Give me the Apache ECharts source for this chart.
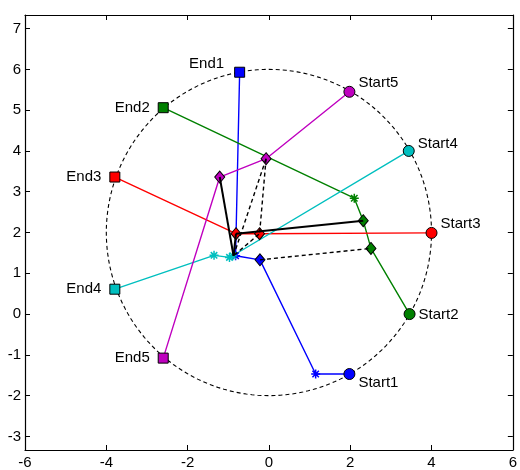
<!DOCTYPE html>
<html>
<head>
<meta charset="utf-8">
<script src="https://cdn.jsdelivr.net/npm/echarts@6/dist/echarts.min.js"></script>
<style>
html,body{margin:0;padding:0;background:#fff;}
#chart{width:520px;height:470px;}
</style>
</head>
<body>
<div id="chart"></div>
<script>
// ---- data ----
const xTicks = [-6, -4, -2, 0, 2, 4, 6];
const yTicks = [-3, -2, -1, 0, 1, 2, 3, 4, 5, 6, 7];

const startLabels = ['Start1', 'Start2', 'Start3', 'Start4', 'Start5'];
const endLabels = ['End1', 'End2', 'End3', 'End4', 'End5'];
const startX = [1.98, 3.46, 4.00, 3.44, 1.98];
const startY = [-1.47, 0.00, 1.99, 4.00, 5.45];
const endX = [-0.72, -2.60, -3.79, -3.79, -2.60];
const endY = [5.93, 5.06, 3.36, 0.61, -1.08];

// intermediate waypoints of each path (from start toward end)
const path1Mid = [[1.15, -1.47], [-0.22, 1.33], [-0.82, 1.43]];
const path2Mid = [[2.51, 1.61], [2.32, 2.29], [2.10, 2.84]];
const path3Mid = [[-0.23, 1.97], [-0.81, 1.97]];
const path4Mid = [[-0.89, 1.43], [-0.97, 1.39], [-1.35, 1.44]];
const path5Mid = [[-0.07, 3.81], [-1.21, 3.36]];
// marker kind of each waypoint: 's' = star, 'd' = diamond
const path1Kinds = ['s', 'd', 's'];
const path2Kinds = ['d', 'd', 's'];
const path3Kinds = ['d', 'd'];
const path4Kinds = ['s', 's', 's'];
const path5Kinds = ['d', 'd'];

// black connecting links
const solidLinks = [
  [[-0.87, 1.43], [-1.21, 3.36]],
  [[-0.87, 1.43], [-0.81, 1.97]],
  [[-0.81, 1.97], [2.32, 2.29]]
];
const dashedLinks = [
  [[-0.87, 1.43], [-0.07, 3.81]],
  [[-0.07, 3.81], [-0.23, 1.97]],
  [[-0.85, 1.45], [-0.23, 1.97]],
  [[-0.22, 1.33], [2.51, 1.61]]
];

// reference circle
const circleCenter = [0, 2];
const circleRadius = 4;

// ---- styles ----
const pathColors = ['#0000ff', '#008000', '#ff0000', '#00bfbf', '#bf00bf'];
const startLabelOffsets = [[0, 9], [0, 1], [0, -9], [0, -7], [0, -9]];
const endLabelOffsets = [[-2, -8], [0, 0], [0, 0], [0, 0], [0, 0]];
const FONT = 'Liberation Sans, Arial, Helvetica, sans-serif';
const FS = 15;
const STAR = 'path://M0,-5L0,5M-5,0L5,0M-3.6,-3.6L3.6,3.6M-3.6,3.6L3.6,-3.6';

const mids = [path1Mid, path2Mid, path3Mid, path4Mid, path5Mid];
const kinds = [path1Kinds, path2Kinds, path3Kinds, path4Kinds, path5Kinds];

function circlePoints() {
  const pts = [];
  for (let a = 0; a <= 360; a += 2) {
    const r = a * Math.PI / 180;
    pts.push([circleCenter[0] + circleRadius * Math.cos(r), circleCenter[1] + circleRadius * Math.sin(r)]);
  }
  return pts;
}

const series = [];
series.push({
  type: 'line', data: circlePoints(), symbol: 'none', silent: true,
  lineStyle: { color: '#000', width: 1.1, type: [4, 3] }, z: 1
});

solidLinks.forEach(l => series.push({
  type: 'line', data: l, symbol: 'none', silent: true,
  lineStyle: { color: '#000', width: 2 }, z: 3
}));
dashedLinks.forEach(l => series.push({
  type: 'line', data: l, symbol: 'none', silent: true,
  lineStyle: { color: '#000', width: 1.4, type: [4, 3] }, z: 3
}));

for (let i = 0; i < 5; i++) {
  const c = pathColors[i];
  const data = [];
  data.push({
    value: [startX[i], startY[i]], symbol: 'circle', symbolSize: 11,
    itemStyle: { color: c, borderColor: '#000', borderWidth: 1 },
    label: { show: true, formatter: startLabels[i], position: 'right', distance: 3,
      offset: startLabelOffsets[i], color: '#000', fontSize: FS, fontFamily: FONT }
  });
  mids[i].forEach((p, j) => {
    if (kinds[i][j] === 'd') {
      data.push({ value: p, symbol: 'diamond', symbolSize: [10, 12],
        itemStyle: { color: c, borderColor: '#000', borderWidth: 1 } });
    } else {
      data.push({ value: p, symbol: STAR, symbolSize: 9,
        itemStyle: { color: 'none', borderColor: c, borderWidth: 1.5 } });
    }
  });
  data.push({
    value: [endX[i], endY[i]], symbol: 'rect', symbolSize: 10,
    itemStyle: { color: c, borderColor: '#000', borderWidth: 1 },
    label: { show: true, formatter: endLabels[i], position: 'left', distance: 8,
      offset: endLabelOffsets[i], color: '#000', fontSize: FS, fontFamily: FONT }
  });
  series.push({
    type: 'line', data: data, showAllSymbol: true, silent: true,
    lineStyle: { color: c, width: 1.4 }, itemStyle: { color: c }, z: 2
  });
}

const axisCommon = {
  axisLine: { show: true, onZero: false, lineStyle: { color: '#000', width: 1.2 } },
  splitLine: { show: false }
};

const option = {
  animation: false,
  backgroundColor: '#fff',
  grid: { left: 25, top: 15, width: 492, height: 436, containLabel: false },
  xAxis: [
    Object.assign({}, axisCommon, {
      type: 'value', position: 'bottom', min: -6, max: 6, interval: 2,
      axisTick: { show: true, inside: true, length: 5, lineStyle: { color: '#000' } },
      axisLabel: { show: true, color: '#000', fontSize: FS, fontFamily: FONT, margin: 5,
        customValues: xTicks }
    }),
    Object.assign({}, axisCommon, {
      type: 'value', position: 'top', min: -6, max: 6, interval: 2,
      axisTick: { show: true, inside: true, length: 5, lineStyle: { color: '#000' } },
      axisLabel: { show: false }
    })
  ],
  yAxis: [
    Object.assign({}, axisCommon, {
      type: 'value', position: 'left', min: -3.333, max: 7.333,
      axisTick: { show: true, inside: true, length: 5, customValues: yTicks, lineStyle: { color: '#000' } },
      axisLabel: { show: true, color: '#000', fontSize: FS, fontFamily: FONT, margin: 4,
        customValues: yTicks }
    }),
    Object.assign({}, axisCommon, {
      type: 'value', position: 'right', min: -3.333, max: 7.333,
      axisTick: { show: true, inside: true, length: 5, customValues: yTicks, lineStyle: { color: '#000' } },
      axisLabel: { show: false }
    })
  ],
  series: series
};

const chart = echarts.init(document.getElementById('chart'), null, { renderer: 'canvas' });
chart.setOption(option);
</script>
</body>
</html>
